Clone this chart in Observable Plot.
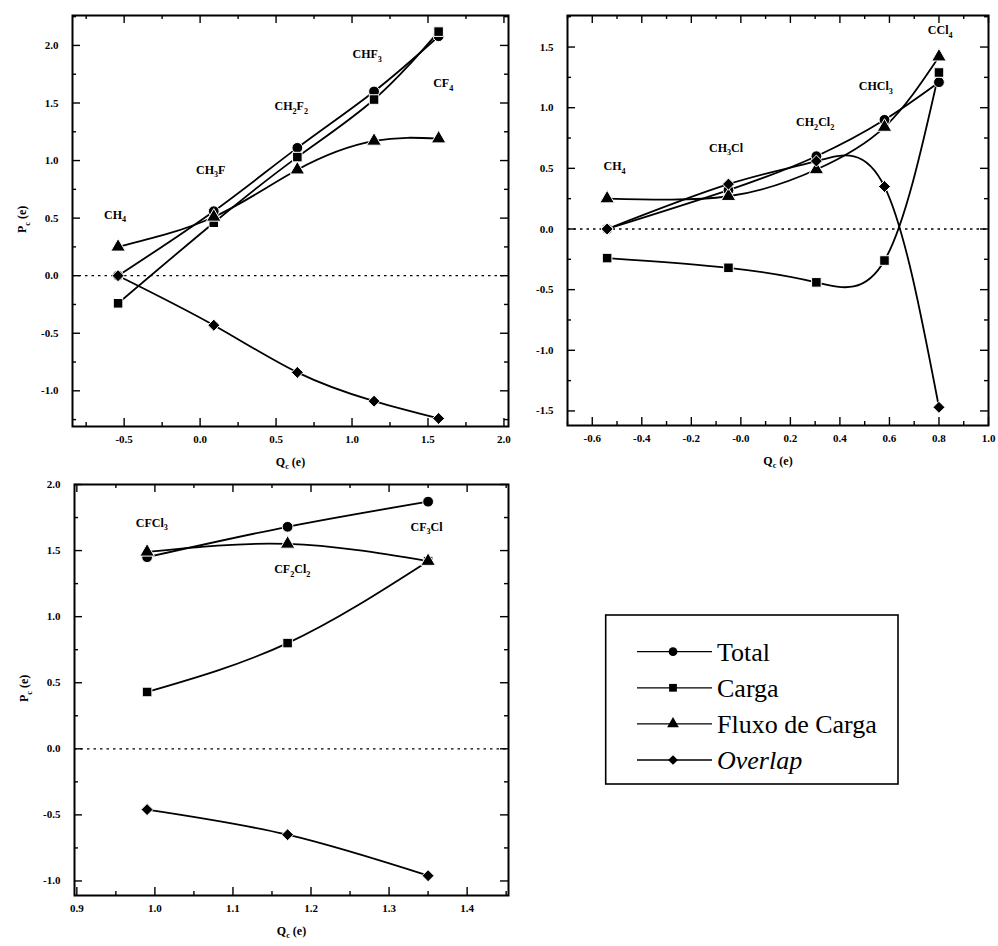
<!DOCTYPE html>
<html>
<head>
<meta charset="utf-8">
<script src="https://cdn.jsdelivr.net/npm/d3@7"></script>
<script src="https://cdn.jsdelivr.net/npm/@observablehq/plot@0.6"></script>
<style>
  body { margin: 0; background: #fff; }
  #fig { position: relative; width: 998px; height: 946px; background: #fff; }
  #fig > svg { position: absolute; overflow: visible; }
</style>
</head>
<body>
<div id="fig"></div>
<script>
// Series shown in every panel, with their marker shapes
const series = ["Total", "Carga", "Fluxo de Carga", "Overlap"];
const seriesSymbols = ["circle", "square", "triangle", "diamond2"];

// Fluoromethanes: carbon charge Qc (e) and contributions to Pc (e)
const fluoroNames   = ["CH4", "CH3F", "CH2F2", "CHF3", "CF4"];
const fluoroQc      = [-0.54, 0.09, 0.64, 1.145, 1.57];
const fluoroTotal   = [0.00, 0.56, 1.11, 1.60, 2.08];
const fluoroCarga   = [-0.24, 0.46, 1.03, 1.53, 2.12];
const fluoroFluxo   = [0.25, 0.51, 0.92, 1.17, 1.19];
const fluoroOverlap = [0.00, -0.43, -0.84, -1.09, -1.24];
const fluoroLabelX  = [-0.56, 0.07, 0.60, 1.10, 1.60];
const fluoroLabelY  = [0.53, 0.92, 1.47, 1.92, 1.67];

// Chloromethanes
const chloroNames   = ["CH4", "CH3Cl", "CH2Cl2", "CHCl3", "CCl4"];
const chloroQc      = [-0.54, -0.05, 0.305, 0.58, 0.80];
const chloroTotal   = [0.00, 0.32, 0.60, 0.90, 1.21];
const chloroCarga   = [-0.24, -0.32, -0.44, -0.26, 1.29];
const chloroFluxo   = [0.25, 0.27, 0.49, 0.84, 1.42];
const chloroOverlap = [0.00, 0.37, 0.56, 0.35, -1.47];
const chloroLabelX  = [-0.51, -0.06, 0.30, 0.545, 0.805];
const chloroLabelY  = [0.52, 0.67, 0.88, 1.18, 1.64];

// Chlorofluoromethanes
const cfcNames   = ["CFCl3", "CF2Cl2", "CF3Cl"];
const cfcQc      = [0.99, 1.17, 1.35];
const cfcTotal   = [1.45, 1.68, 1.87];
const cfcCarga   = [0.43, 0.80, 1.42];
const cfcFluxo   = [1.49, 1.55, 1.42];
const cfcOverlap = [-0.46, -0.65, -0.96];
const cfcLabelX  = [0.996, 1.176, 1.348];
const cfcLabelY  = [1.71, 1.36, 1.68];

// Tick values and their printed labels
const xTicks1 = [-0.5, 0, 0.5, 1, 1.5, 2];
const xTickLabels1 = ["-0.5", "0.0", "0.5", "1.0", "1.5", "2.0"];
const yTicks1 = [-1, -0.5, 0, 0.5, 1, 1.5, 2];
const yTickLabels1 = ["-1.0", "-0.5", "0.0", "0.5", "1.0", "1.5", "2.0"];
const xTicks2 = [-0.6, -0.4, -0.2, 0, 0.2, 0.4, 0.6, 0.8, 1.0];
const xTickLabels2 = ["-0.6", "-0.4", "-0.2", "-0.0", "0.2", "0.4", "0.6", "0.8", "1.0"];
const yTicks2 = [-1.5, -1, -0.5, 0, 0.5, 1, 1.5];
const yTickLabels2 = ["-1.5", "-1.0", "-0.5", "0.0", "0.5", "1.0", "1.5"];
const xTicks3 = [0.9, 1.0, 1.1, 1.2, 1.3, 1.4];
const xTickLabels3 = ["0.9", "1.0", "1.1", "1.2", "1.3", "1.4"];
const yTicks3 = [-1, -0.5, 0, 0.5, 1, 1.5, 2];
const yTickLabels3 = ["-1.0", "-0.5", "0.0", "0.5", "1.0", "1.5", "2.0"];

const FONT = "Liberation Serif, Times New Roman, serif";
const SVGNS = "http://www.w3.org/2000/svg";
const fig = document.getElementById("fig");

// Render "_x" as a subscript x inside an SVG text element
function richText(el, src, fontSize) {
  const runs = [];
  for (let k = 0; k < src.length; k++) {
    let ch = src[k], sub = false;
    if (ch === "_" && k + 1 < src.length) { ch = src[++k]; sub = true; }
    const last = runs[runs.length - 1];
    if (last && last.sub === sub) last.t += ch; else runs.push({t: ch, sub});
  }
  el.textContent = "";
  const shift = 0.32 * fontSize;
  let down = false;
  for (const r of runs) {
    const ts = document.createElementNS(SVGNS, "tspan");
    ts.textContent = r.t;
    if (r.sub) {
      ts.setAttribute("font-size", (0.68 * fontSize) + "px");
      if (!down) ts.setAttribute("dy", shift);
      down = true;
    } else if (down) {
      ts.setAttribute("dy", -shift);
      down = false;
    }
    el.appendChild(ts);
  }
}

function minorTicks(domain, step, majors) {
  const out = [];
  const start = Math.ceil(domain[0] / step - 1e-9);
  const end = Math.floor(domain[1] / step + 1e-9);
  for (let k = start; k <= end; k++) {
    const v = +(k * step).toFixed(6);
    if (!majors.some(m => Math.abs(m - v) < 1e-9)) out.push(v);
  }
  return out;
}

function panel(cfg) {
  const rows = [];
  series.forEach((s, j) => {
    cfg.qc.forEach((q, i) => rows.push({series: s, qc: q, value: cfg.values[j][i]}));
  });
  const labels = cfg.names.map((n, i) => ({
    x: cfg.labelX[i], y: cfg.labelY[i], text: n.replace(/(\d)/g, "_$1")
  }));
  const [mT, mR, mB, mL] = cfg.margin;
  const fw = cfg.width - mL - mR, fh = cfg.height - mT - mB;
  const xMinor = minorTicks(cfg.xDomain, cfg.xMinorStep, cfg.xTicks);
  const yMinor = minorTicks(cfg.yDomain, cfg.yMinorStep, cfg.yTicks);
  const MAJ = 8, MIN = 4, TW = 1.4;
  const axisFont = {fontFamily: FONT, fontWeight: "bold", fontSize: 11};

  const marks = [
    Plot.ruleY([0], {strokeDasharray: "2.5,4", strokeWidth: 1.3}),
    // inward ticks on all four sides
    Plot.tickY(cfg.yTicks, {y: d => d, insetRight: fw - MAJ, strokeWidth: TW}),
    Plot.tickY(cfg.yTicks, {y: d => d, insetLeft: fw - MAJ, strokeWidth: TW}),
    Plot.tickY(yMinor, {y: d => d, insetRight: fw - MIN, strokeWidth: TW}),
    Plot.tickY(yMinor, {y: d => d, insetLeft: fw - MIN, strokeWidth: TW}),
    Plot.tickX(cfg.xTicks, {x: d => d, insetTop: fh - MAJ, strokeWidth: TW}),
    Plot.tickX(cfg.xTicks, {x: d => d, insetBottom: fh - MAJ, strokeWidth: TW}),
    Plot.tickX(xMinor, {x: d => d, insetTop: fh - MIN, strokeWidth: TW}),
    Plot.tickX(xMinor, {x: d => d, insetBottom: fh - MIN, strokeWidth: TW}),
    Plot.axisY(cfg.yTicks, {
      tickSize: 0, tickPadding: 14, label: null, ...axisFont,
      tickFormat: d => cfg.yTickLabels[cfg.yTicks.indexOf(d)]
    }),
    Plot.axisX(cfg.xTicks, {
      tickSize: 0, tickPadding: 9, label: null, ...axisFont,
      tickFormat: d => cfg.xTickLabels[cfg.xTicks.indexOf(d)]
    }),
    Plot.frame({strokeWidth: 2}),
    Plot.line(rows, {x: "qc", y: "value", z: "series", curve: "natural", strokeWidth: 1.8}),
    Plot.dot(rows, {x: "qc", y: "value", symbol: "series", r: 5.4, fill: "black",
                    stroke: "white", strokeWidth: 1}),
    Plot.text(labels, {x: "x", y: "y", text: "text", fontSize: 12}),
    Plot.text(["Q_c (e)"], {frameAnchor: "bottom", dy: 39, text: d => d, fontSize: 12})
  ];
  if (cfg.yLabel) {
    marks.push(Plot.text(["P_c (e)"], {frameAnchor: "left", dx: -50, dy: 12, rotate: -90,
                                        text: d => d, fontSize: 12}));
  }

  const svg = Plot.plot({
    width: cfg.width, height: cfg.height,
    marginTop: mT, marginRight: mR, marginBottom: mB, marginLeft: mL,
    style: {fontFamily: FONT, fontSize: "11px", fontWeight: "bold", background: "transparent", color: "black"},
    x: {domain: cfg.xDomain, axis: null},
    y: {domain: cfg.yDomain, axis: null},
    symbol: {domain: series, range: seriesSymbols},
    marks
  });

  svg.querySelectorAll('g[aria-label="text"] text').forEach(t => {
    const fs = parseFloat(t.getAttribute("font-size")) || 12;
    richText(t, t.textContent, fs);
  });
  svg.style.left = cfg.left + "px";
  svg.style.top = cfg.top + "px";
  fig.appendChild(svg);
}

panel({
  names: fluoroNames, qc: fluoroQc,
  values: [fluoroTotal, fluoroCarga, fluoroFluxo, fluoroOverlap],
  labelX: fluoroLabelX, labelY: fluoroLabelY,
  xTicks: xTicks1, xTickLabels: xTickLabels1, yTicks: yTicks1, yTickLabels: yTickLabels1,
  xDomain: [-0.84, 2.03], yDomain: [-1.31, 2.26], xMinorStep: 0.25, yMinorStep: 0.25,
  left: 0, top: 0, width: 520, height: 480, margin: [15, 12, 54, 72], yLabel: true
});

panel({
  names: chloroNames, qc: chloroQc,
  values: [chloroTotal, chloroCarga, chloroFluxo, chloroOverlap],
  labelX: chloroLabelX, labelY: chloroLabelY,
  xTicks: xTicks2, xTickLabels: xTickLabels2, yTicks: yTicks2, yTickLabels: yTickLabels2,
  xDomain: [-0.7, 1.0], yDomain: [-1.62, 1.76], xMinorStep: 0.1, yMinorStep: 0.25,
  left: 500, top: 0, width: 498, height: 480, margin: [15, 10, 55, 67], yLabel: false
});

panel({
  names: cfcNames, qc: cfcQc,
  values: [cfcTotal, cfcCarga, cfcFluxo, cfcOverlap],
  labelX: cfcLabelX, labelY: cfcLabelY,
  xTicks: xTicks3, xTickLabels: xTickLabels3, yTicks: yTicks3, yTickLabels: yTickLabels3,
  xDomain: [0.897, 1.453], yDomain: [-1.11, 2.0], xMinorStep: 0.05, yMinorStep: 0.25,
  left: 0, top: 470, width: 520, height: 476, margin: [14, 12, 51, 74], yLabel: true
});

// Legend box
(function legend() {
  const svg = d3.select(fig).append("svg")
    .attr("width", 360).attr("height", 230)
    .style("left", "560px").style("top", "580px");
  svg.append("rect")
    .attr("x", 45.7).attr("y", 35).attr("width", 292.3).attr("height", 169)
    .attr("fill", "white").attr("stroke", "black").attr("stroke-width", 1.6);
  const shapes = {
    circle: d3.symbolCircle, square: d3.symbolSquare,
    triangle: d3.symbolTriangle, diamond2: d3.symbolDiamond2
  };
  const rowY = d3.scalePoint().domain(series).range([71.7, 180]);
  series.forEach((s, i) => {
    const y = rowY(s);
    svg.append("line").attr("x1", 77).attr("x2", 152).attr("y1", y).attr("y2", y)
      .attr("stroke", "black").attr("stroke-width", 1.3);
    svg.append("path")
      .attr("d", d3.symbol(shapes[seriesSymbols[i]], 60)())
      .attr("transform", `translate(113,${y})`).attr("fill", "black");
    svg.append("text").attr("x", 157).attr("y", y + 9)
      .attr("font-family", FONT).attr("font-size", 26)
      .attr("font-style", s === "Overlap" ? "italic" : "normal")
      .text(s);
  });
})();
</script>
</body>
</html>
